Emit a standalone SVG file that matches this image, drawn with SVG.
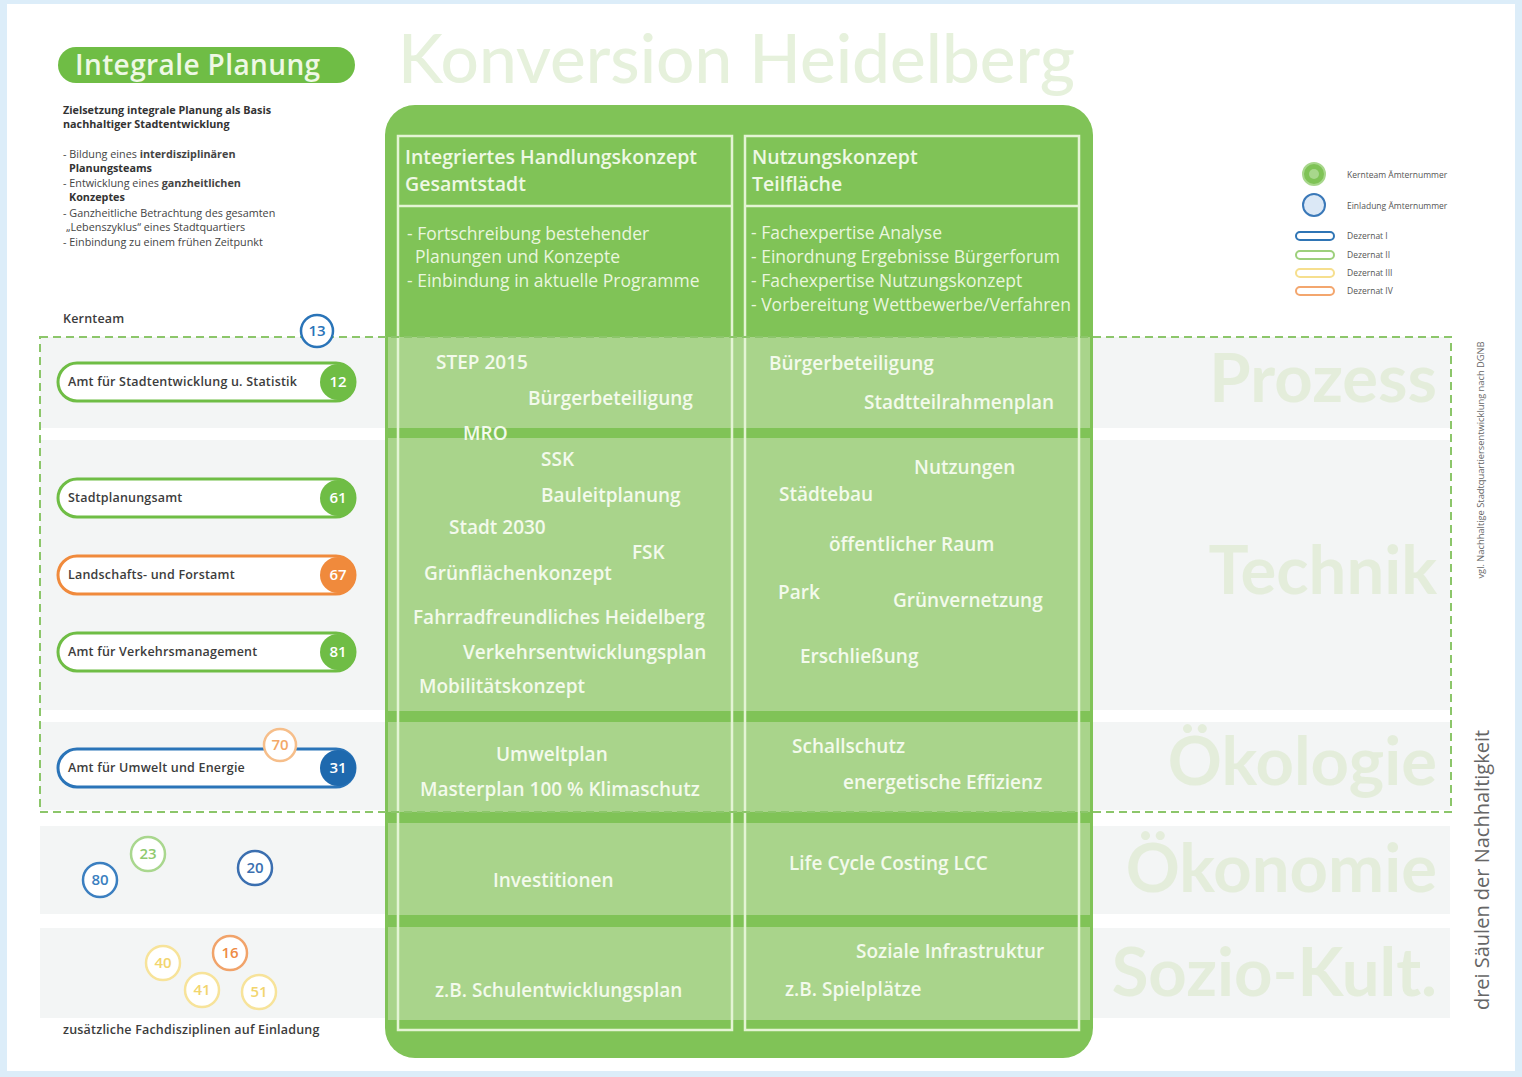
<svg xmlns="http://www.w3.org/2000/svg" width="1522" height="1077" viewBox="0 0 1522 1077">
<style>
.bt{font-family:"Open Sans","Noto Sans",sans-serif;font-weight:600;font-size:19px;fill:#f3faec;letter-spacing:0px}
.hdr{font-family:"Open Sans","Noto Sans",sans-serif;font-weight:600;font-size:19.5px;fill:#eef8e4;letter-spacing:0px}
.body{font-family:"Open Sans","Noto Sans",sans-serif;font-weight:400;font-size:17.5px;fill:#e9f6de;letter-spacing:0px}
.big{font-family:Lato,"Open Sans",sans-serif;font-weight:700;font-size:67px;fill:#e4eddb;text-anchor:end}
.pt{font-family:"Open Sans","Noto Sans",sans-serif;font-weight:600;font-size:12.5px;fill:#3c3c3c;letter-spacing:0.2px}
.sm{font-family:"Open Sans","Noto Sans",sans-serif;font-size:10.8px;fill:#444}
.smb{font-family:"Open Sans","Noto Sans",sans-serif;font-size:10.8px;font-weight:700;fill:#333}
.num{font-family:"Open Sans","Noto Sans",sans-serif;font-weight:600;font-size:15px;text-anchor:middle}
.lg{font-family:"Open Sans","Noto Sans",sans-serif;font-size:8.5px;fill:#555}
.band{fill:#f3f5f5}
.gband{fill:#a9d48b}
.col{fill:none;stroke:#e4f4d4;stroke-width:2.5}
.pill{fill:#fff;stroke-width:3}
</style>
<rect x="0" y="0" width="1522" height="1077" fill="#dcedf9"/>
<rect x="7" y="4" width="1508" height="1067" fill="#ffffff"/>

<g id="bands">
<rect class="band" x="40" y="337" width="1410" height="91"/>
<rect class="band" x="40" y="440" width="1410" height="270"/>
<rect class="band" x="40" y="722" width="1410" height="88"/>
<rect class="band" x="40" y="826" width="1410" height="88"/>
<rect class="band" x="40" y="928" width="1410" height="90"/>
</g>

<text x="398" y="83" font-family="Lato,'Open Sans',sans-serif" font-size="67.5" font-weight="500" fill="#e6f1dc">Konversion Heidelberg</text>

<g id="title-pill">
<rect x="58" y="47" width="297" height="36" rx="18" fill="#6fbd45"/>
<text x="75" y="75" font-family="'Open Sans','Noto Sans',sans-serif" font-size="28" font-weight="600" fill="#eef8e4" letter-spacing="0.4">Integrale Planung</text>
</g>

<g id="intro">
<text class="smb" x="63" y="114">Zielsetzung integrale Planung als Basis</text>
<text class="smb" x="63" y="128">nachhaltiger Stadtentwicklung</text>
<text class="sm" x="63" y="158">- Bildung eines <tspan font-weight="700">interdisziplinären</tspan></text>
<text class="smb" x="69" y="172">Planungsteams</text>
<text class="sm" x="63" y="187">- Entwicklung eines <tspan font-weight="700">ganzheitlichen</tspan></text>
<text class="smb" x="69" y="201">Konzeptes</text>
<text class="sm" x="63" y="217">- Ganzheitliche Betrachtung des gesamten</text>
<text class="sm" x="66" y="231">„Lebenszyklus“ eines Stadtquartiers</text>
<text class="sm" x="63" y="246">- Einbindung zu einem frühen Zeitpunkt</text>
</g>

<g id="main-box">
<rect x="385" y="105" width="708" height="953" rx="30" fill="#80c357"/>
<rect class="gband" x="388" y="337" width="702" height="91"/>
<rect class="gband" x="388" y="438" width="702" height="273"/>
<rect class="gband" x="388" y="722" width="702" height="90"/>
<rect class="gband" x="388" y="823" width="702" height="92"/>
<rect class="gband" x="388" y="927" width="702" height="93"/>
<rect class="col" x="398" y="136" width="334" height="894"/>
<line class="col" x1="398" y1="206" x2="732" y2="206"/>
<rect class="col" x="745" y="136" width="334" height="894"/>
<line class="col" x1="745" y1="206" x2="1079" y2="206"/>
</g>

<g id="col-left">
<text class="hdr" x="405" y="164">Integriertes Handlungskonzept</text>
<text class="hdr" x="405" y="191">Gesamtstadt</text>
<text class="body" x="407" y="240">- Fortschreibung bestehender</text>
<text class="body" x="415" y="263">Planungen und Konzepte</text>
<text class="body" x="407" y="287">- Einbindung in aktuelle Programme</text>
<text class="bt" x="436" y="369">STEP 2015</text>
<text class="bt" x="528" y="405">Bürgerbeteiligung</text>
<text class="bt" x="463" y="440">MRO</text>
<text class="bt" x="541" y="466">SSK</text>
<text class="bt" x="541" y="502">Bauleitplanung</text>
<text class="bt" x="449" y="534">Stadt 2030</text>
<text class="bt" x="632" y="559">FSK</text>
<text class="bt" x="424" y="580">Grünflächenkonzept</text>
<text class="bt" x="413" y="624">Fahrradfreundliches Heidelberg</text>
<text class="bt" x="463" y="659">Verkehrsentwicklungsplan</text>
<text class="bt" x="419" y="693">Mobilitätskonzept</text>
<text class="bt" x="496" y="761">Umweltplan</text>
<text class="bt" x="420" y="796">Masterplan 100 % Klimaschutz</text>
<text class="bt" x="493" y="887">Investitionen</text>
<text class="bt" x="435" y="997">z.B. Schulentwicklungsplan</text>
</g>

<g id="col-right">
<text class="hdr" x="752" y="164">Nutzungskonzept</text>
<text class="hdr" x="752" y="191">Teilfläche</text>
<text class="body" x="751" y="239">- Fachexpertise Analyse</text>
<text class="body" x="751" y="263">- Einordnung Ergebnisse Bürgerforum</text>
<text class="body" x="751" y="287">- Fachexpertise Nutzungskonzept</text>
<text class="body" x="751" y="311">- Vorbereitung Wettbewerbe/Verfahren</text>
<text class="bt" x="769" y="370">Bürgerbeteiligung</text>
<text class="bt" x="864" y="409">Stadtteilrahmenplan</text>
<text class="bt" x="914" y="474">Nutzungen</text>
<text class="bt" x="779" y="501">Städtebau</text>
<text class="bt" x="829" y="551">öffentlicher Raum</text>
<text class="bt" x="778" y="599">Park</text>
<text class="bt" x="893" y="607">Grünvernetzung</text>
<text class="bt" x="800" y="663">Erschließung</text>
<text class="bt" x="792" y="753">Schallschutz</text>
<text class="bt" x="843" y="789">energetische Effizienz</text>
<text class="bt" x="789" y="870">Life Cycle Costing LCC</text>
<text class="bt" x="856" y="958">Soziale Infrastruktur</text>
<text class="bt" x="785" y="996">z.B. Spielplätze</text>
</g>

<g id="pillars">
<text class="big" x="1437" y="402">Prozess</text>
<text class="big" x="1437" y="594">Technik</text>
<text class="big" x="1437" y="785">Ökologie</text>
<text class="big" x="1437" y="892">Ökonomie</text>
<text class="big" x="1437" y="996">Sozio-Kult.</text>
</g>

<rect id="kernteam-frame" x="40" y="337" width="1411" height="475" fill="none" stroke="#8cc66a" stroke-width="2" stroke-dasharray="8,5"/>

<text class="pt" x="63" y="323">Kernteam</text>

<g id="node-13">
<circle cx="317" cy="331" r="16" fill="#fff" stroke="#2a74b8" stroke-width="2.5"/>
<text class="num" x="317" y="336" fill="#2a74b8">13</text>
</g>

<g id="node-12">
<rect class="pill" x="58" y="363" width="297" height="38" rx="19" stroke="#6fbd45"/>
<text class="pt" x="68" y="386">Amt für Stadtentwicklung u. Statistik</text>
<circle cx="338" cy="382" r="18" fill="#6fbd45"/>
<text class="num" x="338" y="387" fill="#fff">12</text>
</g>

<g id="node-61">
<rect class="pill" x="58" y="479" width="297" height="38" rx="19" stroke="#6fbd45"/>
<text class="pt" x="68" y="502">Stadtplanungsamt</text>
<circle cx="338" cy="498" r="18" fill="#6fbd45"/>
<text class="num" x="338" y="503" fill="#fff">61</text>
</g>

<g id="node-67">
<rect class="pill" x="58" y="556" width="297" height="38" rx="19" stroke="#f08a3c"/>
<text class="pt" x="68" y="579">Landschafts- und Forstamt</text>
<circle cx="338" cy="575" r="18" fill="#f08a3c"/>
<text class="num" x="338" y="580" fill="#fff">67</text>
</g>

<g id="node-81">
<rect class="pill" x="58" y="633" width="297" height="38" rx="19" stroke="#6fbd45"/>
<text class="pt" x="68" y="656">Amt für Verkehrsmanagement</text>
<circle cx="338" cy="652" r="18" fill="#6fbd45"/>
<text class="num" x="338" y="657" fill="#fff">81</text>
</g>

<g id="node-31">
<rect class="pill" x="58" y="749" width="297" height="38" rx="19" stroke="#2a74b8"/>
<text class="pt" x="68" y="772">Amt für Umwelt und Energie</text>
<circle cx="338" cy="768" r="18" fill="#1e69ae"/>
<text class="num" x="338" y="773" fill="#fff">31</text>
</g>

<g id="node-70">
<circle cx="280" cy="745" r="16" fill="#fff" stroke="#f6be8a" stroke-width="2.5"/>
<text class="num" x="280" y="750" fill="#f3a868">70</text>
</g>

<g id="node-80">
<circle cx="100" cy="880" r="17" fill="#fff" stroke="#3b7fc0" stroke-width="2.5"/>
<text class="num" x="100" y="885" fill="#3b7fc0">80</text>
</g>
<g id="node-23">
<circle cx="148" cy="854" r="17" fill="#fff" stroke="#a9d78e" stroke-width="2.5"/>
<text class="num" x="148" y="859" fill="#8fca6f">23</text>
</g>
<g id="node-20">
<circle cx="255" cy="868" r="17" fill="#fff" stroke="#3b6fb0" stroke-width="2.5"/>
<text class="num" x="255" y="873" fill="#3b6fb0">20</text>
</g>
<g id="node-40">
<circle cx="163" cy="963" r="17" fill="#fff" stroke="#f7e39a" stroke-width="2.5"/>
<text class="num" x="163" y="968" fill="#f2d56e">40</text>
</g>
<g id="node-16">
<circle cx="230" cy="953" r="17" fill="#fff" stroke="#f1a36a" stroke-width="2.5"/>
<text class="num" x="230" y="958" fill="#ee8b45">16</text>
</g>
<g id="node-41">
<circle cx="202" cy="990" r="17" fill="#fff" stroke="#f7e39a" stroke-width="2.5"/>
<text class="num" x="202" y="995" fill="#f2d56e">41</text>
</g>
<g id="node-51">
<circle cx="259" cy="992" r="17" fill="#fff" stroke="#f7e39a" stroke-width="2.5"/>
<text class="num" x="259" y="997" fill="#f2d56e">51</text>
</g>

<text class="pt" x="63" y="1034">zusätzliche Fachdisziplinen auf Einladung</text>

<g id="legend">
<circle cx="1314" cy="174" r="11" fill="#7fc356" stroke="#a8d78c" stroke-width="2"/>
<circle cx="1314" cy="174" r="5" fill="#a8d78c"/>
<text class="lg" x="1347" y="178">Kernteam Ämternummer</text>
<circle cx="1314" cy="205" r="11" fill="#dbe8f6" stroke="#3a78b8" stroke-width="2"/>
<text class="lg" x="1347" y="209">Einladung Ämternummer</text>
<rect x="1296" y="232" width="38" height="8" rx="4" fill="#fff" stroke="#2f75b5" stroke-width="2"/>
<text class="lg" x="1347" y="239">Dezernat I</text>
<rect x="1296" y="251" width="38" height="8" rx="4" fill="#fff" stroke="#9dd07c" stroke-width="2"/>
<text class="lg" x="1347" y="258">Dezernat II</text>
<rect x="1296" y="269" width="38" height="8" rx="4" fill="#fff" stroke="#f6df8e" stroke-width="2"/>
<text class="lg" x="1347" y="276">Dezernat III</text>
<rect x="1296" y="287" width="38" height="8" rx="4" fill="#fff" stroke="#f3a66e" stroke-width="2"/>
<text class="lg" x="1347" y="294">Dezernat IV</text>
</g>

<g id="side-notes">
<text transform="translate(1484,460) rotate(-90)" text-anchor="middle" font-family="'Open Sans','Noto Sans',sans-serif" font-size="9.3" fill="#666">vgl. Nachhaltige Stadtquartiersentwicklung nach DGNB</text>
<text transform="translate(1489,870) rotate(-90)" text-anchor="middle" font-family="'Open Sans','Noto Sans',sans-serif" font-size="20" fill="#666">drei Säulen der Nachhaltigkeit</text>
</g>

<g id="connectors"></g>
</svg>
